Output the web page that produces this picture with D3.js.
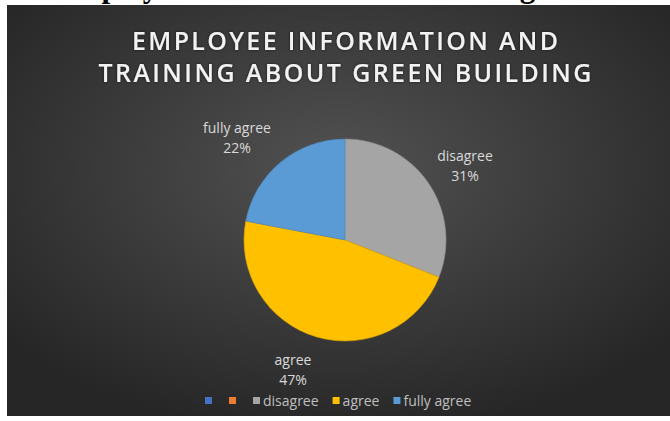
<!DOCTYPE html>
<meta charset="utf-8">
<style>
body { margin: 0; background: #fff; }
.title { font: 600 25px "Open Sans", sans-serif; fill: #f2f2f2; }
.label { font: 14px "Open Sans", sans-serif; fill: #d9d9d9; }
.legend text { font: 14px "Open Sans", sans-serif; fill: #bfbfbf; }
</style>
<svg width="670" height="421"></svg>
<script src="https://d3js.org/d3.v7.min.js"></script>
<script>

var categories = ["disagree", "agree", "fully agree"]
var values = [31, 47, 22]
var colors = ["#a5a5a5", "#ffc000", "#5b9bd5"]

// legend has two leftover empty entries before the real ones
var legendNames = ["", "", "disagree", "agree", "fully agree"]
var legendColors = ["#4472c4", "#ed7d31", "#a5a5a5", "#ffc000", "#5b9bd5"]

var titleLines = ["EMPLOYEE INFORMATION AND", "TRAINING ABOUT GREEN BUILDING"]

var svg = d3.select("svg")
var defs = svg.append("defs")

var grad = defs.append("radialGradient")
    .attr("id", "bg")
    .attr("cx", "50%").attr("cy", "40%").attr("r", "65%")
grad.append("stop").attr("offset", "0%").attr("stop-color", "#525252")
grad.append("stop").attr("offset", "100%").attr("stop-color", "#262626")

var glow = defs.append("filter").attr("id", "glow")
    .attr("x", "-10%").attr("y", "-30%").attr("width", "120%").attr("height", "160%")
glow.append("feGaussianBlur").attr("in", "SourceAlpha").attr("stdDeviation", 1.5).attr("result", "b")
glow.append("feFlood").attr("flood-color", "#000").attr("flood-opacity", 0.6)
glow.append("feComposite").attr("in2", "b").attr("operator", "in").attr("result", "s")
var m = glow.append("feMerge")
m.append("feMergeNode").attr("in", "s")
m.append("feMergeNode").attr("in", "SourceGraphic")

// cut-off heading of the page above the chart
svg.append("text")
    .attr("x", 55).attr("y", -3)
    .style("font", "bold 31px 'Liberation Serif', serif")
    .attr("fill", "#000")
    .text("Employee Information and Training about Green Building")

svg.append("rect")
    .attr("x", 7).attr("y", 5)
    .attr("width", 663).attr("height", 411)
    .attr("fill", "url(#bg)")

svg.selectAll(".title")
  .data(titleLines)
  .enter().append("text")
    .attr("class", "title")
    .attr("x", 345)
    .attr("y", function(d, i) { return 50 + i * 32; })
    .attr("text-anchor", "middle")
    .attr("textLength", function(d, i) { return i == 0 ? 426 : 493; })
    .attr("lengthAdjust", "spacing")
    .attr("filter", "url(#glow)")
    .text(function(d) { return d; })

var cx = 345, cy = 240, radius = 101

var pie = d3.pie().sort(null).value(function(d) { return d; })
var arc = d3.arc().innerRadius(0).outerRadius(radius)
var arcs = pie(values)

var g = svg.append("g").attr("transform", "translate(" + cx + "," + cy + ")")

g.selectAll("path")
  .data(arcs)
  .enter().append("path")
    .attr("d", arc)
    .attr("fill", function(d, i) { return colors[i]; })
    .attr("stroke", function(d, i) { return d3.color(colors[i]).darker(0.4); })
    .attr("stroke-width", 0.6)

// label positions, relative to the pie centre
var labelPos = [[120, -79], [-52, 125], [-108, -107]]

var lab = svg.selectAll(".label")
  .data(arcs)
  .enter().append("text")
    .attr("class", "label")
    .attr("text-anchor", "middle")
    .attr("transform", function(d, i) {
      return "translate(" + (cx + labelPos[i][0]) + "," + (cy + labelPos[i][1]) + ")"; })

lab.append("tspan").attr("x", 0).attr("y", 0)
    .text(function(d, i) { return categories[i]; })
lab.append("tspan").attr("x", 0).attr("y", 20)
    .text(function(d) { return d.data + "%"; })

var legend = svg.append("g").attr("class", "legend")
var lx = 205
legendNames.forEach(function(name, i) {
  legend.append("rect")
      .attr("x", lx).attr("y", 397)
      .attr("width", 7).attr("height", 7)
      .attr("fill", legendColors[i])
  var t = legend.append("text")
      .attr("x", lx + 10).attr("y", 406)
      .text(name)
  lx += 10 + (name ? t.node().getComputedTextLength() : 0) + 14
})

</script>
